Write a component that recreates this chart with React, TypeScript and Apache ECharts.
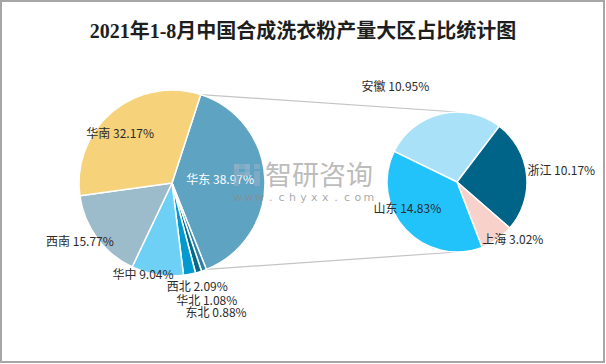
import React, { useEffect, useRef } from "react";
import * as echarts from "echarts";

// ---- data ----
const titleText = "2021年1-8月中国合成洗衣粉产量大区占比统计图";
const regionNames = ["华东", "东北", "华北", "西北", "华中", "西南", "华南"];
const regionShares = [38.97, 0.88, 1.08, 2.09, 9.04, 15.77, 32.17];
const provinceNames = ["安徽", "浙江", "上海", "山东"];
const provinceShares = [10.95, 10.17, 3.02, 14.83];

// ---- styles / placement ----
const regionColors = ["#5fa3c3", "#2a82a6", "#006a8c", "#0099d0", "#6fd0f5", "#9dbccb", "#f6d27a"];
const provinceColors = ["#a9e1f9", "#006488", "#f7d1ca", "#22c3fa"];
const regionLabelRadius = [0.52, 1.456, 1.31, 1.13, 1.017, 1.17, 0.78];
const regionLabelTurn = [-3, 1.1, 0, -3, 8.7, 4, -5.7];
const provinceLabelRadius = [1.64, 1.5, 1.14, 0.8];
const provinceLabelTurn = [-19, -0.8, -9.5, 15];

const L = { cx: 172, cy: 183, r: 93, start: 18 };
const R = { cx: 457, cy: 182, r: 70, start: 296 };

function midAngles(values: number[], start: number) {
  const total = values.reduce((a, b) => a + b, 0);
  let acc = start;
  return values.map((v) => {
    const span = (v / total) * 360;
    const m = acc + span / 2;
    acc += span;
    return m;
  });
}
function polar(c: { cx: number; cy: number; r: number }, k: number, deg: number) {
  const a = (deg * Math.PI) / 180;
  return [c.cx + k * c.r * Math.sin(a), c.cy - k * c.r * Math.cos(a)];
}

export default function App() {
  const ref = useRef<HTMLDivElement>(null);
  useEffect(() => {
    if (!ref.current) return;
    const chart = echarts.init(ref.current, null, { renderer: "svg" });
    const leftMid = midAngles(regionShares, L.start);
    const rightMid = midAngles(provinceShares, R.start);
    const huadongEnd = L.start + (regionShares[0] / regionShares.reduce((a, b) => a + b, 0)) * 360;
    const pTop = polar(L, 1, L.start);
    const pBot = polar(L, 1, huadongEnd);
    const labelFont = "'Noto Sans CJK SC', 'Microsoft YaHei', sans-serif";

    const wwwChars = "www.chyxx.com".split("");
    const logoFill = "rgba(150,178,200,0.55)";
    const logoRects = [
      [234, 164, 5, 22],
      [234, 164, 16, 5],
      [245, 164, 5, 12],
      [239, 172, 11, 4],
      [254, 164, 6, 5],
      [254, 171, 6, 15],
    ];

    chart.setOption({
      animation: false,
      backgroundColor: "#ffffff",
      title: {
        text: titleText,
        left: "center",
        top: 16,
        textStyle: {
          fontFamily: "'Liberation Serif', 'Noto Sans CJK SC', serif",
          fontSize: 20,
          fontWeight: "bold",
          color: "#1e1e1e",
        },
      },
      graphic: [
        {
          type: "rect",
          shape: { x: 1, y: 1, width: 603, height: 361 },
          style: { fill: "none", stroke: "#a6a6a6", lineWidth: 2 },
          silent: true,
        },
        {
          type: "line",
          shape: { x1: pTop[0], y1: pTop[1], x2: R.cx, y2: R.cy - R.r },
          style: { stroke: "#c4c4c4", lineWidth: 1.2 },
          z: 0,
        },
        {
          type: "line",
          shape: { x1: pBot[0], y1: pBot[1], x2: R.cx, y2: R.cy + R.r },
          style: { stroke: "#c4c4c4", lineWidth: 1.2 },
          z: 0,
        },
        ...logoRects.map((b) => ({
          type: "rect",
          z: 100,
          silent: true,
          shape: { x: b[0], y: b[1], width: b[2], height: b[3] },
          style: { fill: logoFill },
        })),
        {
          type: "text",
          z: 100,
          silent: true,
          x: 265,
          y: 173,
          style: {
            text: "智研咨询",
            fontSize: 27,
            lineHeight: 27,
            fontFamily: labelFont,
            fill: "rgba(170,170,170,0.8)",
            verticalAlign: "middle",
            align: "left",
          },
        },
        ...wwwChars.map((ch, i) => ({
          type: "text",
          z: 100,
          silent: true,
          x: 238 + i * 10.9,
          y: 197,
          style: {
            text: ch,
            fontSize: 11,
            lineHeight: 11,
            fontFamily: "'DejaVu Sans', sans-serif",
            fill: "rgba(140,140,140,0.75)",
            align: "center",
            verticalAlign: "middle",
          },
        })),
      ],
      series: [
        {
          type: "pie",
          center: [L.cx, L.cy],
          radius: L.r,
          startAngle: 90 - L.start,
          clockwise: true,
          itemStyle: { borderColor: "#ffffff", borderWidth: 1.5 },
          label: {
            show: true,
            position: "inside",
            fontSize: 12,
            fontFamily: labelFont,
            color: "#2b2b2b",
            formatter: (p: any) => `${p.name} ${Number(p.value).toFixed(2)}%`,
          },
          labelLine: { show: false },
          labelLayout: (p: any) => {
            const i = p.dataIndex;
            const [x, y] = polar(L, regionLabelRadius[i], leftMid[i] + regionLabelTurn[i]);
            return { x, y, align: "center", verticalAlign: "middle" };
          },
          data: regionNames.map((n, i) => ({
            name: n,
            value: regionShares[i],
            itemStyle: { color: regionColors[i] },
            label: i === 0 ? { color: "#ffffff" } : {},
          })),
        },
        {
          type: "pie",
          center: [R.cx, R.cy],
          radius: R.r,
          startAngle: 90 - R.start,
          clockwise: true,
          itemStyle: { borderColor: "#ffffff", borderWidth: 1.5 },
          label: {
            show: true,
            position: "inside",
            fontSize: 12,
            fontFamily: labelFont,
            color: "#2b2b2b",
            formatter: (p: any) => `${p.name} ${Number(p.value).toFixed(2)}%`,
          },
          labelLine: { show: false },
          labelLayout: (p: any) => {
            const i = p.dataIndex;
            const [x, y] = polar(R, provinceLabelRadius[i], rightMid[i] + provinceLabelTurn[i]);
            return { x, y, align: "center", verticalAlign: "middle" };
          },
          data: provinceNames.map((n, i) => ({
            name: n,
            value: provinceShares[i],
            itemStyle: { color: provinceColors[i] },
          })),
        },
      ],
    });
    return () => chart.dispose();
  }, []);
  return (
    <div
      ref={ref}
      style={{ position: "fixed", left: 0, top: 0, width: 606, height: 364 }}
    />
  );
}
